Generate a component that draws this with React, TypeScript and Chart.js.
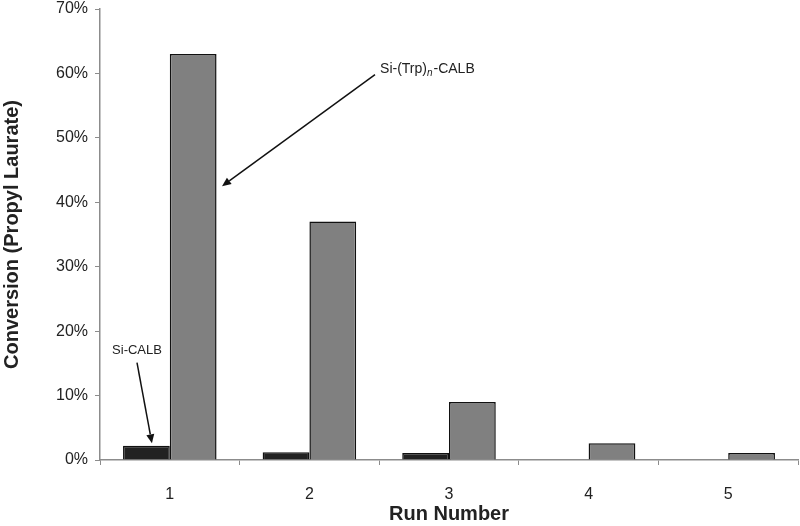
import React, { useEffect, useRef } from "react";
import { Chart, registerables } from "chart.js";

Chart.register(...registerables);

const runs = ["1", "2", "3", "4", "5"];
const siCalb = [2.2, 1.2, 1.1, 0, 0];
const siTrpCalb = [63, 37, 9, 2.6, 1.1];
const yTicks = [0, 10, 20, 30, 40, 50, 60, 70];

// annotation anchors in data units: [category index, value %]
const calbLabel = { text: "Si-CALB", at: [-0.235, 17.0] };
const calbArrow = { from: [-0.235, 15.1], to: [-0.128, 2.6] };
const trpLabel = { at: [1.506, 60.6] };
const trpArrow = { from: [1.47, 59.8], to: [0.374, 42.5] };

const FONT = "'Liberation Sans', Arial, sans-serif";

function drawArrow(ctx: CanvasRenderingContext2D, x1: number, y1: number, x2: number, y2: number) {
  const ang = Math.atan2(y2 - y1, x2 - x1);
  const head = 9;
  const hw = 4;
  const bx = x2 - head * Math.cos(ang);
  const by = y2 - head * Math.sin(ang);
  ctx.save();
  ctx.strokeStyle = "#111";
  ctx.fillStyle = "#111";
  ctx.lineWidth = 1.5;
  ctx.beginPath();
  ctx.moveTo(x1, y1);
  ctx.lineTo(bx, by);
  ctx.stroke();
  ctx.beginPath();
  ctx.moveTo(x2, y2);
  ctx.lineTo(bx + hw * Math.sin(ang), by - hw * Math.cos(ang));
  ctx.lineTo(bx - hw * Math.sin(ang), by + hw * Math.cos(ang));
  ctx.closePath();
  ctx.fill();
  ctx.restore();
}

const annotations = {
  id: "annotations",
  afterDraw(chart: any) {
    const ctx = chart.ctx as CanvasRenderingContext2D;
    const xs = chart.scales.x;
    const ys = chart.scales.y;
    const px = (p: number[]) => [xs.getPixelForValue(p[0]), ys.getPixelForValue(p[1])];

    ctx.save();
    ctx.fillStyle = "#222";
    ctx.textBaseline = "middle";
    ctx.font = `13px ${FONT}`;
    ctx.textAlign = "center";
    const [cx, cy] = px(calbLabel.at);
    ctx.fillText(calbLabel.text, cx, cy);

    const [f1x, f1y] = px(calbArrow.from);
    const [t1x, t1y] = px(calbArrow.to);
    drawArrow(ctx, f1x, f1y, t1x, t1y);

    const [tx, ty] = px(trpLabel.at);
    ctx.textAlign = "left";
    ctx.font = `14px ${FONT}`;
    let x = tx;
    const p1 = "Si-(Trp)";
    ctx.fillText(p1, x, ty);
    x += ctx.measureText(p1).width;
    ctx.font = `italic 10px ${FONT}`;
    ctx.fillText("n", x, ty + 4);
    x += ctx.measureText("n").width + 1;
    ctx.font = `14px ${FONT}`;
    ctx.fillText("-CALB", x, ty);

    const [f2x, f2y] = px(trpArrow.from);
    const [t2x, t2y] = px(trpArrow.to);
    drawArrow(ctx, f2x, f2y, t2x, t2y);
    ctx.restore();
  },
};

export default function App() {
  const ref = useRef<HTMLCanvasElement>(null);
  useEffect(() => {
    document.body.style.margin = "0";
    const chart = new Chart(ref.current!, {
      type: "bar",
      data: {
        labels: runs,
        datasets: [
          {
            label: "Si-CALB",
            data: siCalb,
            backgroundColor: "#222222",
            borderColor: "#111111",
            borderWidth: 1.5,
            categoryPercentage: 0.67,
            barPercentage: 1.0,
          },
          {
            label: "Si-(Trp)n-CALB",
            data: siTrpCalb,
            backgroundColor: "#808080",
            borderColor: "#111111",
            borderWidth: 1.5,
            categoryPercentage: 0.67,
            barPercentage: 1.0,
          },
        ],
      },
      options: {
        animation: false,
        responsive: false,
        maintainAspectRatio: false,
        layout: { padding: { top: 9, right: 2, left: 0, bottom: 0 } },
        plugins: { legend: { display: false }, tooltip: { enabled: false } },
        scales: {
          x: {
            grid: { display: true, drawOnChartArea: false, drawTicks: true, tickLength: 5, color: "#8c8c8c", offset: true },
            border: { display: true, color: "#8c8c8c", width: 1.5 },
            ticks: { color: "#222", font: { family: FONT, size: 16 }, padding: 20 },
            title: {
              display: true,
              text: "Run Number",
              color: "#222",
              font: { family: FONT, size: 20, weight: "bold" },
              padding: { top: 8, bottom: 0 },
            },
            afterFit(scale: any) {
              scale.height = 66;
              scale.paddingLeft = 0;
              scale.paddingRight = 0;
            },
          },
          y: {
            min: 0,
            max: 70,
            afterBuildTicks(scale: any) {
              scale.ticks = yTicks.map((v) => ({ value: v }));
            },
            grid: { display: true, drawOnChartArea: false, drawTicks: true, tickLength: 5, color: "#8c8c8c" },
            border: { display: true, color: "#8c8c8c", width: 1.5 },
            ticks: {
              color: "#222",
              font: { family: FONT, size: 16 },
              padding: 7,
              callback: (v: any) => `${v}%`,
            },
            title: {
              display: true,
              text: "Conversion (Propyl Laurate)",
              color: "#222",
              font: { family: FONT, size: 20, weight: "bold" },
              padding: { top: 0, bottom: 8 },
            },
            afterFit(scale: any) {
              scale.width = 100;
              scale.paddingTop = 0;
              scale.paddingBottom = 0;
            },
          },
        },
      },
      plugins: [annotations],
    });
    return () => chart.destroy();
  }, []);
  return (
    <div style={{ position: "absolute", left: 0, top: 0, width: 800, height: 526 }}>
      <canvas ref={ref} width={800} height={526} />
    </div>
  );
}
